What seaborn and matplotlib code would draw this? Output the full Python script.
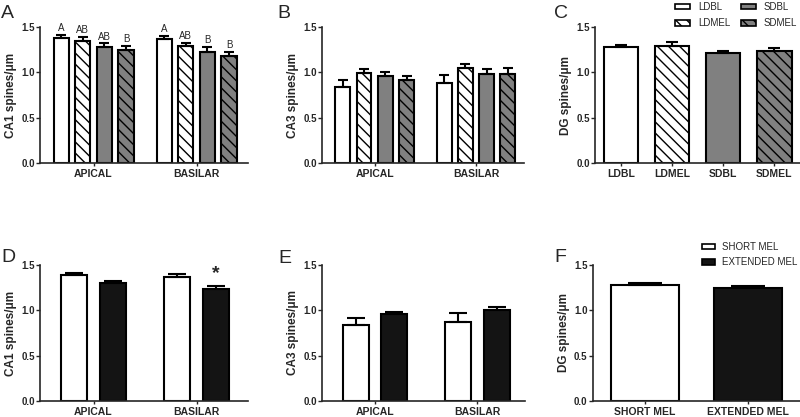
import pandas as pd
import seaborn as sns
import matplotlib.pyplot as plt
from matplotlib.patches import Patch

# --- data ---
regions = ['APICAL', 'BASILAR']
groups4 = ['LDBL', 'LDMEL', 'SDBL', 'SDMEL']
groups2 = ['SHORT MEL', 'EXTENDED MEL']

# A: CA1, per group -> [APICAL, BASILAR]
ca1_4_mean = [[1.38, 1.37], [1.35, 1.29], [1.28, 1.23], [1.25, 1.18]]
ca1_4_sem = [[0.03, 0.03], [0.045, 0.04], [0.04, 0.05], [0.045, 0.045]]
ca1_4_letters = [['A', 'A'], ['AB', 'AB'], ['AB', 'B'], ['B', 'B']]

# B: CA3
ca3_4_mean = [[0.835, 0.88], [0.995, 1.05], [0.96, 0.98], [0.92, 0.98]]
ca3_4_sem = [[0.085, 0.09], [0.045, 0.045], [0.04, 0.06], [0.045, 0.065]]

# C: DG
dg_4_mean = [1.28, 1.29, 1.215, 1.235]
dg_4_sem = [0.02, 0.045, 0.02, 0.03]

# D: CA1, short vs extended
ca1_2_mean = [[1.385, 1.37], [1.30, 1.24]]
ca1_2_sem = [[0.025, 0.03], [0.025, 0.025]]

# E: CA3
ca3_2_mean = [[0.835, 0.875], [0.955, 1.0]]
ca3_2_sem = [[0.085, 0.095], [0.025, 0.035]]

# F: DG
dg_2_mean = [1.275, 1.245]
dg_2_sem = [0.025, 0.02]

colors4 = ['#ffffff', '#ffffff', '#808080', '#808080']
hatches4 = ['', '\\\\\\', '', '\\\\\\']
colors2 = ['#ffffff', '#141414']
hatches2 = ['', '']

sns.set_style('ticks')
plt.rcParams['font.family'] = ['Liberation Sans', 'DejaVu Sans']
plt.rcParams['hatch.linewidth'] = 1.0
plt.rcParams['axes.linewidth'] = 1.2


def long_df(means, sems, groups, cats=None):
    rows = []
    for g, m, s in zip(groups, means, sems):
        if cats is None:
            rows.append({'cat': g, 'group': g, 'mean': m, 'sem': s})
        else:
            for c, mm, ss in zip(cats, m, s):
                rows.append({'cat': c, 'group': g, 'mean': mm, 'sem': ss})
    return pd.DataFrame(rows)


def bar_panel(ax, df, order, hue_order, colors, hatches, width, gap, cap, xlim):
    sns.barplot(data=df, x='cat', y='mean', hue='group', order=order,
                hue_order=hue_order, palette=colors, saturation=1,
                width=width, gap=gap, errorbar=None, edgecolor='k',
                linewidth=1.5, legend=False, ax=ax)
    bar_conts = list(ax.containers)
    tops = {}
    for i, cont in enumerate(bar_conts):
        g = hue_order[i]
        for bar in cont:
            bar.set_hatch(hatches[i])
            xc = bar.get_x() + bar.get_width() / 2
            cat = order[int(round(xc))]
            row = df[(df['cat'] == cat) & (df['group'] == g)].iloc[0]
            ax.errorbar(xc, row['mean'], yerr=[[0], [row['sem']]], fmt='none',
                        ecolor='k', elinewidth=1.5, capsize=cap, capthick=1.5,
                        zorder=1)
            tops[(cat, g)] = (xc, row['mean'] + row['sem'])
    ax.set_ylim(0, 1.5)
    ax.set_xlim(*xlim)
    ax.set_yticks([0, 0.5, 1.0, 1.5])
    ax.set_yticklabels(['0.0', '0.5', '1.0', '1.5'], fontweight='bold', fontsize=7)
    ax.set_xticks(range(len(order)))
    ax.set_xticklabels(order, fontweight='bold', fontsize=7.5)
    ax.set_xlabel('')
    ax.tick_params(direction='out', length=2.8, width=1, pad=1)
    ax.tick_params(axis='x', length=2.5, pad=1.6)
    sns.despine(ax=ax)
    return tops


fig = plt.figure(figsize=(8, 4.17), dpi=100)
top_y, bot_y = 0.935, 0.609
h = top_y - bot_y
bot2 = 0.0385
axA = fig.add_axes([0.05, bot_y, 0.26, h])
axB = fig.add_axes([0.4025, bot_y, 0.252, h])
axC = fig.add_axes([0.744, bot_y, 0.256, h])
axD = fig.add_axes([0.05, bot2, 0.26, h])
axE = fig.add_axes([0.4025, bot2, 0.254, h])
axF = fig.add_axes([0.741, bot2, 0.259, h])

dfA = long_df(ca1_4_mean, ca1_4_sem, groups4, regions)
topsA = bar_panel(axA, dfA, regions, groups4, colors4, hatches4, 0.84, 0.3, 3.5, (-0.52, 1.5))
for gi, g in enumerate(groups4):
    for ci, c in enumerate(regions):
        xc, yt = topsA[(c, g)]
        axA.text(xc, yt + 0.02, ca1_4_letters[gi][ci], ha='center', va='bottom', fontsize=7)
axA.set_ylabel('CA1 spines/μm', fontweight='bold', fontsize=8.5, labelpad=3)

dfB = long_df(ca3_4_mean, ca3_4_sem, groups4, regions)
bar_panel(axB, dfB, regions, groups4, colors4, hatches4, 0.84, 0.3, 3.5, (-0.52, 1.47))
axB.set_ylabel('CA3 spines/μm', fontweight='bold', fontsize=8.5, labelpad=3)

dfC = long_df(dg_4_mean, dg_4_sem, groups4)
bar_panel(axC, dfC, groups4, groups4, colors4, hatches4, 0.67, 0, 4.5, (-0.5, 3.5))
axC.set_ylabel('DG spines/μm', fontweight='bold', fontsize=8.5, labelpad=3)

dfD = long_df(ca1_2_mean, ca1_2_sem, groups2, regions)
topsD = bar_panel(axD, dfD, regions, groups2, colors2, hatches2, 0.76, 0.33, 6.5, (-0.52, 1.5))
xc, yt = topsD[('BASILAR', 'EXTENDED MEL')]
axD.text(xc, yt + 0.05, '*', ha='center', va='bottom', fontsize=14, fontweight='bold')
axD.set_ylabel('CA1 spines/μm', fontweight='bold', fontsize=8.5, labelpad=3)

dfE = long_df(ca3_2_mean, ca3_2_sem, groups2, regions)
bar_panel(axE, dfE, regions, groups2, colors2, hatches2, 0.76, 0.33, 6.5, (-0.52, 1.47))
axE.set_ylabel('CA3 spines/μm', fontweight='bold', fontsize=8.5, labelpad=3)

dfF = long_df(dg_2_mean, dg_2_sem, groups2)
bar_panel(axF, dfF, groups2, groups2, colors2, hatches2, 0.66, 0, 12, (-0.51, 1.51))
axF.set_ylabel('DG spines/μm', fontweight='bold', fontsize=8.5, labelpad=3)

# legends
hC = [Patch(facecolor=c, edgecolor='k', hatch=hh, linewidth=1.2)
      for c, hh in zip(colors4, hatches4)]
fig.legend(hC, groups4, loc='upper left', bbox_to_anchor=(675 / 800, 1 - 2 / 417), ncol=2,
           frameon=False, fontsize=7, handlelength=1.55, handleheight=0.5,
           columnspacing=1.1, labelspacing=0.65, handletextpad=0.8, borderaxespad=0,
           borderpad=0)
hF = [Patch(facecolor=c, edgecolor='k', linewidth=1.2) for c in colors2]
fig.legend(hF, groups2, loc='upper left', bbox_to_anchor=(702 / 800, 1 - 242 / 417), ncol=1,
           frameon=False, fontsize=7, handlelength=1.35, handleheight=0.55,
           labelspacing=0.55, handletextpad=0.7, borderaxespad=0, borderpad=0)

# panel letters (baseline positions in pixels)
for lab, x, y in [('A', 1, 18), ('B', 277, 18), ('C', 554, 18),
                  ('D', 1, 262), ('E', 278, 263), ('F', 554, 262)]:
    fig.text(x / 800, 1 - y / 417, lab, ha='left', va='baseline', fontsize=14)

fig.savefig('out.png', dpi=100)
